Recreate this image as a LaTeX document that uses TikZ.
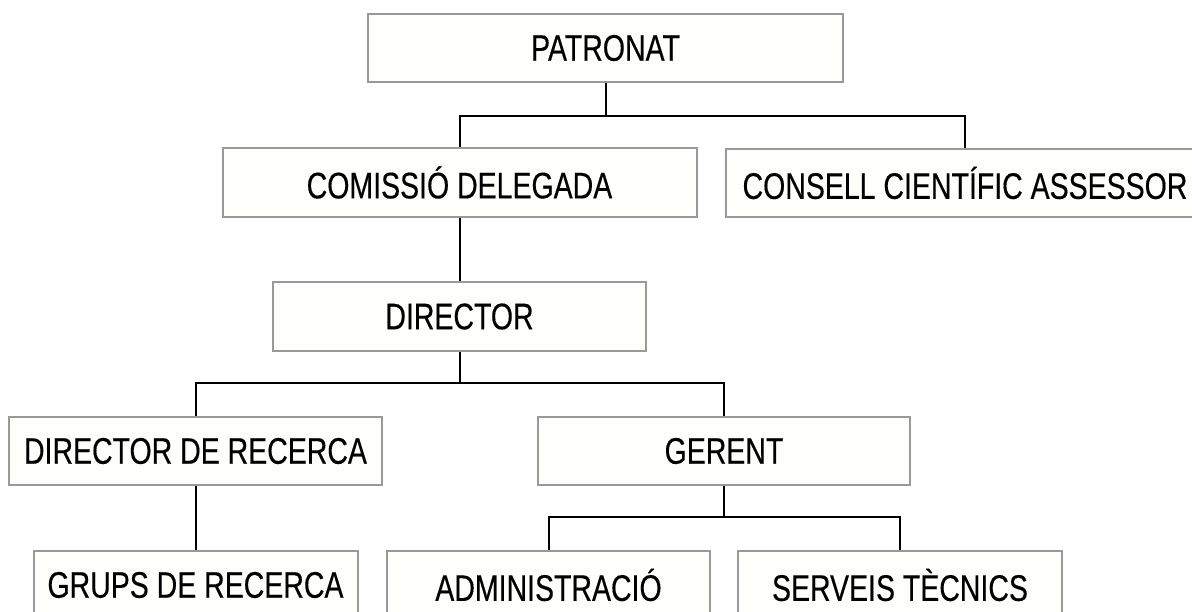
\documentclass[tikz,border=0pt]{standalone}
\usepackage{fontspec}
\setmainfont{Liberation Sans}[FakeStretch=0.77, FakeBold=0.3]
\definecolor{boxfill}{HTML}{FEFEFA}
\definecolor{boxline}{HTML}{999999}
\begin{document}
\begin{tikzpicture}[x=1pt,y=1pt,
  box/.style={draw=boxline, fill=boxfill, line width=2pt, inner sep=0pt,
    font=\fontsize{37}{42}\selectfont, text=black},
  link/.style={draw=black, line width=2pt}]
\useasboundingbox (0,0) rectangle (1192,-612);
\begin{scope}
\clip (0,0) rectangle (1192,-612);
\node[box, minimum width=475pt, minimum height=68pt] (pat) at (605.5,-48) {PATRONAT};
\node[box, minimum width=474pt, minimum height=69pt] (com) at (459.5,-182.5) {COMISSIÓ DELEGADA};
\node[box, minimum width=478pt, minimum height=68pt] (con) at (965,-183) {CONSELL CIENTÍFIC ASSESSOR};
\node[box, minimum width=373pt, minimum height=69pt] (dir) at (459.5,-316.5) {DIRECTOR};
\node[box, minimum width=373pt, minimum height=68pt] (ddr) at (195.5,-451) {DIRECTOR DE RECERCA};
\node[box, minimum width=372pt, minimum height=68pt] (ger) at (724,-451) {GERENT};
\node[box, minimum width=324pt, minimum height=68pt] (grp) at (195.5,-585) {GRUPS DE RECERCA};
\node[box, minimum width=323pt, minimum height=68pt] (adm) at (548.5,-585) {ADMINISTRACIÓ};
\node[box, minimum width=324pt, minimum height=68pt] (ser) at (900,-585) {SERVEIS TÈCNICS};
\end{scope}
\coordinate (j1) at (605.5,-116);
\coordinate (j2) at (459.5,-383);
\coordinate (j3) at (724,-517);
\draw[link] (pat.south) -- (j1);
\draw[link] (com.north) |- (j1) -| (con.north);
\draw[link] (com.south) -- (dir.north);
\draw[link] (dir.south) -- (j2);
\draw[link] (ddr.north) |- (j2) -| (ger.north);
\draw[link] (ddr.south) -- (grp.north);
\draw[link] (ger.south) -- (j3);
\draw[link] (adm.north) |- (j3) -| (ser.north);
\end{tikzpicture}
\end{document}
